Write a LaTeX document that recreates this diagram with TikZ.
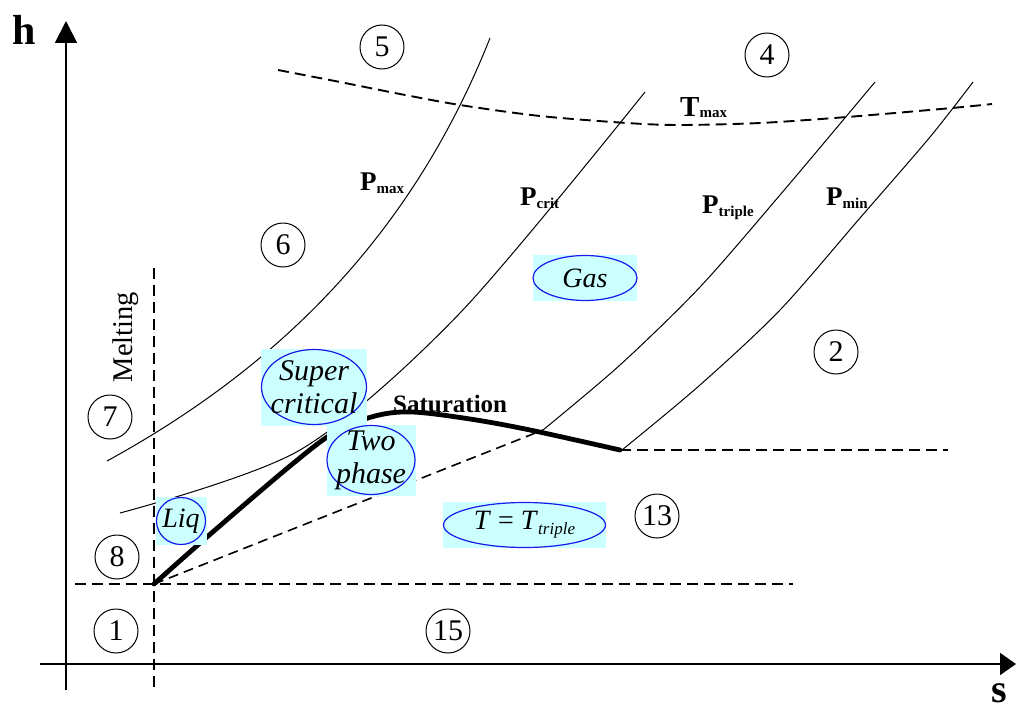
\documentclass[tikz,border=0pt]{standalone}
\usepackage{fontspec}
\setmainfont{Liberation Serif}
\usetikzlibrary{arrows.meta,shapes.geometric}
\definecolor{bgcyan}{RGB}{204,255,255}
\definecolor{ellblue}{RGB}{25,25,235}
\begin{document}
\begin{tikzpicture}[x=1pt,y=-1pt,
  axis/.style={line width=1.8pt},
  isobar/.style={line width=1pt},
  dashline/.style={line width=1.9pt, dash pattern=on 11pt off 6pt},
  finedash/.style={line width=1.6pt, dash pattern=on 10pt off 6pt},
  satline/.style={line width=4.8pt},
  num/.style={circle, draw, line width=1pt, minimum size=44pt, inner sep=0pt, font=\fontsize{30}{30}\selectfont},
  bgbox/.style={fill=bgcyan, inner sep=0pt},
  ell/.style={draw=ellblue, line width=1.2pt},
  btext/.style={inner sep=0pt, align=center, font=\fontsize{30}{33}\selectfont\itshape},
  plabel/.style={anchor=base west, inner sep=0pt, font=\fontsize{27}{27}\selectfont\bfseries},
]
\useasboundingbox (0,0) rectangle (1016,709);

% axes
\coordinate (vb) at (66,690);
\coordinate (vt) at (66,21);
\coordinate (hl) at (40,664);
\coordinate (hr) at (1016,664);
\draw[axis, -{Triangle[length=22pt,width=22pt]}] (vb) -- (vt);
\draw[axis, -{Triangle[length=16pt,width=22pt]}] (hl) -- (hr);
\node[anchor=base west, inner sep=0pt, font=\fontsize{42}{42}\selectfont\bfseries] (hlab) at (12,45) {h};
\node[anchor=base west, inner sep=0pt, font=\fontsize{40}{40}\selectfont\bfseries] (slab) at (991,702) {s};

% key points
\coordinate (tp) at (154,584);
\coordinate (tv) at (543,430);
\coordinate (sv) at (620,450);

% isobars
\coordinate (pmaxa) at (107,461);
\coordinate (pmaxb) at (490,38);
\draw[isobar] (pmaxa) .. controls (262,376) and (406,250) .. (pmaxb);
\draw[isobar] plot[smooth] coordinates {(120,513) (300,450) (460,313) (645,92)};
\draw[isobar] plot[smooth] coordinates {(543,430) (620,365) (700,287) (780,195) (875,82)};
\draw[isobar] plot[smooth] coordinates {(622,450) (700,385) (780,310) (860,218) (930,137) (973,82)};

% T max
\draw[dashline] plot[smooth] coordinates {(278,70) (340,82) (400,94) (460,105) (540,116) (627,123) (680,125) (760,123) (847,117) (952,108) (992,104)};

% melting and triple lines
\coordinate (mt) at (154,268);
\coordinate (mb) at (154,688);
\coordinate (tl) at (75,584);
\coordinate (tr) at (793,584);
\coordinate (se) at (948,450);
\draw[dashline] (mt) -- (mb);
\draw[dashline] (tl) -- (tr);
\draw[dashline] (sv) -- (se);
\draw[finedash] (tp) -- (tv);

% saturation
\draw[satline, line cap=round] plot[smooth, tension=0.55] coordinates {(154,584) (207,537) (290,466) (335,432) (375,416) (412,412) (470,419) (530,430) (620,450)};

% labels
\node[plabel] (pmax) at (360,190) {P\raisebox{-3pt}{\fontsize{15}{15}\selectfont max}};
\node[plabel] (pcrit) at (520,205) {P\raisebox{-3pt}{\fontsize{15}{15}\selectfont crit}};
\node[plabel] (ptrip) at (702,213) {P\raisebox{-3pt}{\fontsize{15}{15}\selectfont triple}};
\node[plabel] (pmin) at (826,205) {P\raisebox{-3pt}{\fontsize{15}{15}\selectfont min}};
\node[plabel, font=\fontsize{29}{29}\selectfont\bfseries] (tmax) at (680,116) {T\raisebox{-1pt}{\fontsize{15}{15}\selectfont max}};
\node[plabel, font=\fontsize{25}{25}\selectfont\bfseries] (satlab) at (393,412) {Saturation};
\node[anchor=base, inner sep=0pt, rotate=90, font=\fontsize{28.5}{28.5}\selectfont] (melt) at (132,337) {Melting};

% bubbles
\node[bgbox, minimum width=104pt, minimum height=46pt] (gasbox) at (585,278) {};
\draw[ell] (gasbox.center) ellipse [x radius=52pt, y radius=22.5pt];
\node[btext, font=\fontsize{28}{28}\selectfont\itshape] (gas) at (gasbox.center) {Gas};

\node[bgbox, minimum width=106pt, minimum height=77pt] (scbox) at (314,387) {};
\draw[ell] (scbox.center) ellipse [x radius=52.5pt, y radius=37.5pt];
\node[btext] (sc) at (scbox.center) {Super\\critical};

\node[bgbox, minimum width=89pt, minimum height=71pt] (tpbox) at (371,460) {};
\draw[ell] (tpbox.center) ellipse [x radius=44pt, y radius=34.5pt];
\node[btext] (twoph) at (tpbox.center) {Two\\phase};

\node[bgbox, minimum width=51pt, minimum height=48pt] (liqbox) at (181,521) {};
\draw[ell] (liqbox.center) ellipse [x radius=24.5pt, y radius=23.5pt];
\node[btext, font=\fontsize{28}{28}\selectfont\itshape] (liq) at (liqbox.center) {Liq};

\node[bgbox, minimum width=163pt, minimum height=46pt] (ttbox) at (524.5,525) {};
\draw[ell] (ttbox.center) ellipse [x radius=81pt, y radius=22.5pt];
\node[btext, font=\fontsize{28}{28}\selectfont] (tt) at (ttbox.center) {\textit{T} = \textit{T}\raisebox{-5pt}{\fontsize{17}{17}\selectfont\itshape triple}};

% region numbers
\node[num] (n5) at (382,47) {5};
\node[num] (n4) at (767,55) {4};
\node[num] (n6) at (283,245) {6};
\node[num] (n2) at (836,352) {2};
\node[num] (n7) at (110,417) {7};
\node[num] (n8) at (117,557) {8};
\node[num] (n13) at (657,516) {13};
\node[num] (n1) at (116,631) {1};
\node[num] (n15) at (448,631) {15};
\end{tikzpicture}
\end{document}
